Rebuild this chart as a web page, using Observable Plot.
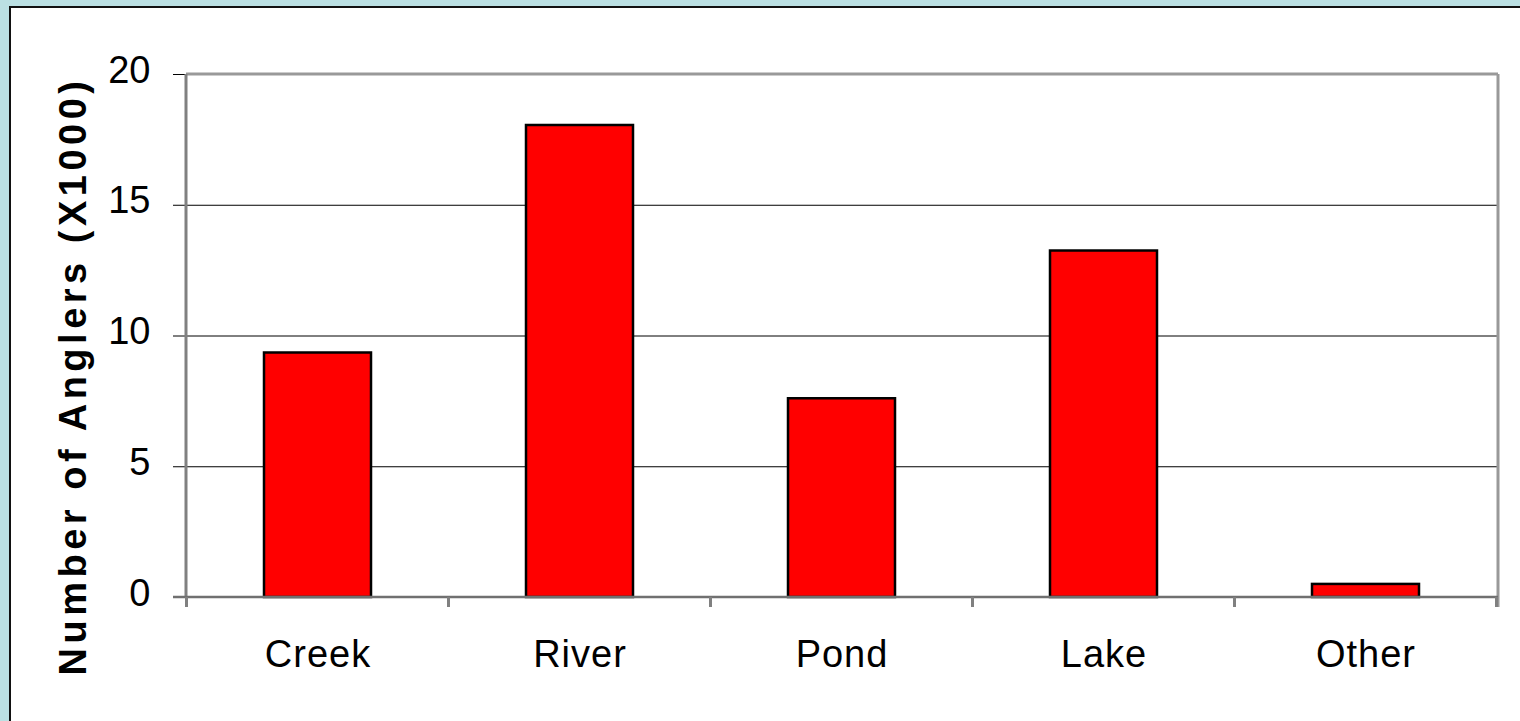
<!DOCTYPE html>
<html><head><meta charset="utf-8">
<script src="https://cdn.jsdelivr.net/npm/d3@7"></script>
<script src="https://cdn.jsdelivr.net/npm/@observablehq/plot@0.6"></script>
<style>
html,body{margin:0;padding:0;}
body{background:#bbe0e3;width:1520px;height:721px;overflow:hidden;position:relative;}
#panel{position:absolute;left:9px;top:6px;right:0;bottom:0;background:#fff;border-top:2px solid #111;border-left:2px solid #111;}
#chart{position:absolute;left:0;top:0;}
#chart g[aria-label="x-axis tick label"] text{letter-spacing:1px;}
#chart g.ylab text{letter-spacing:4.5px;}
</style></head><body><div id="panel"></div><div id="chart"></div>
<script>
const categories = ["Creek","River","Pond","Lake","Other"];
const anglers = [9.35, 18.05, 7.6, 13.25, 0.5];
const yTicks = [0, 5, 10, 15, 20];
const yLabel = "Number of Anglers (X1000)";
const data = categories.map((c, i) => ({category: c, value: anglers[i]}));

const chart = Plot.plot({
  width: 1520, height: 721,
  marginLeft: 186, marginRight: 22, marginTop: 74, marginBottom: 124,
  style: {background: "transparent", fontFamily: "'Liberation Sans', Arial, sans-serif", fontSize: "38px", color: "#000"},
  x: {domain: categories, paddingInner: 0.59, paddingOuter: 0.295, align: 0.5},
  y: {domain: [0, 20], ticks: yTicks},
  marks: [
    Plot.ruleY(yTicks.slice(1, -1), {stroke: "#000", strokeWidth: 1}),
    Plot.barY(data, {x: "category", y: "value", fill: "#ff0000", stroke: "#000", strokeWidth: 2.5}),
    Plot.axisY({ticks: yTicks, tickSize: 13, tickFormat: () => "", label: null, stroke: "#000", strokeWidth: 1}),
    Plot.axisY({ticks: yTicks, tickSize: 0, tickPadding: 36, label: null, fontSize: 38, dy: -4}),
    Plot.axisX({tickSize: 0, tickPadding: 43, label: null, fontSize: 38}),
    Plot.text([yLabel], {frameAnchor: "left", textAnchor: "middle", rotate: -90, dx: -113, dy: 40, fontWeight: "bold", fontSize: 38, className: "ylab"})
  ]
});
document.getElementById("chart").appendChild(chart);

// frame lines and category boundary ticks
const sx = chart.scale("x");
const svg = d3.select(chart);
const L = 186, R = 1520 - 22, T = 74, B = 721 - 124;
const g = svg.append("g").attr("fill", "none");
g.append("line").attr("x1", L).attr("x2", R).attr("y1", T).attr("y2", T).attr("stroke", "#999").attr("stroke-width", 3);
g.append("line").attr("x1", R).attr("x2", R).attr("y1", T).attr("y2", B + 10).attr("stroke", "#999").attr("stroke-width", 3);
g.append("line").attr("x1", L).attr("x2", L).attr("y1", T).attr("y2", B).attr("stroke", "#808080").attr("stroke-width", 3);
g.append("line").attr("x1", L - 13).attr("x2", R).attr("y1", B).attr("y2", B).attr("stroke", "#707070").attr("stroke-width", 2.5);
const off = (sx.step - sx.bandwidth) / 2;
const bounds = categories.map(c => sx.apply(c) - off).concat([sx.apply(categories[categories.length - 1]) + sx.bandwidth + off]);
bounds.forEach(b => g.append("line").attr("x1", b).attr("x2", b).attr("y1", B).attr("y2", B + 10).attr("stroke", "#808080").attr("stroke-width", 3));
</script></body></html>
